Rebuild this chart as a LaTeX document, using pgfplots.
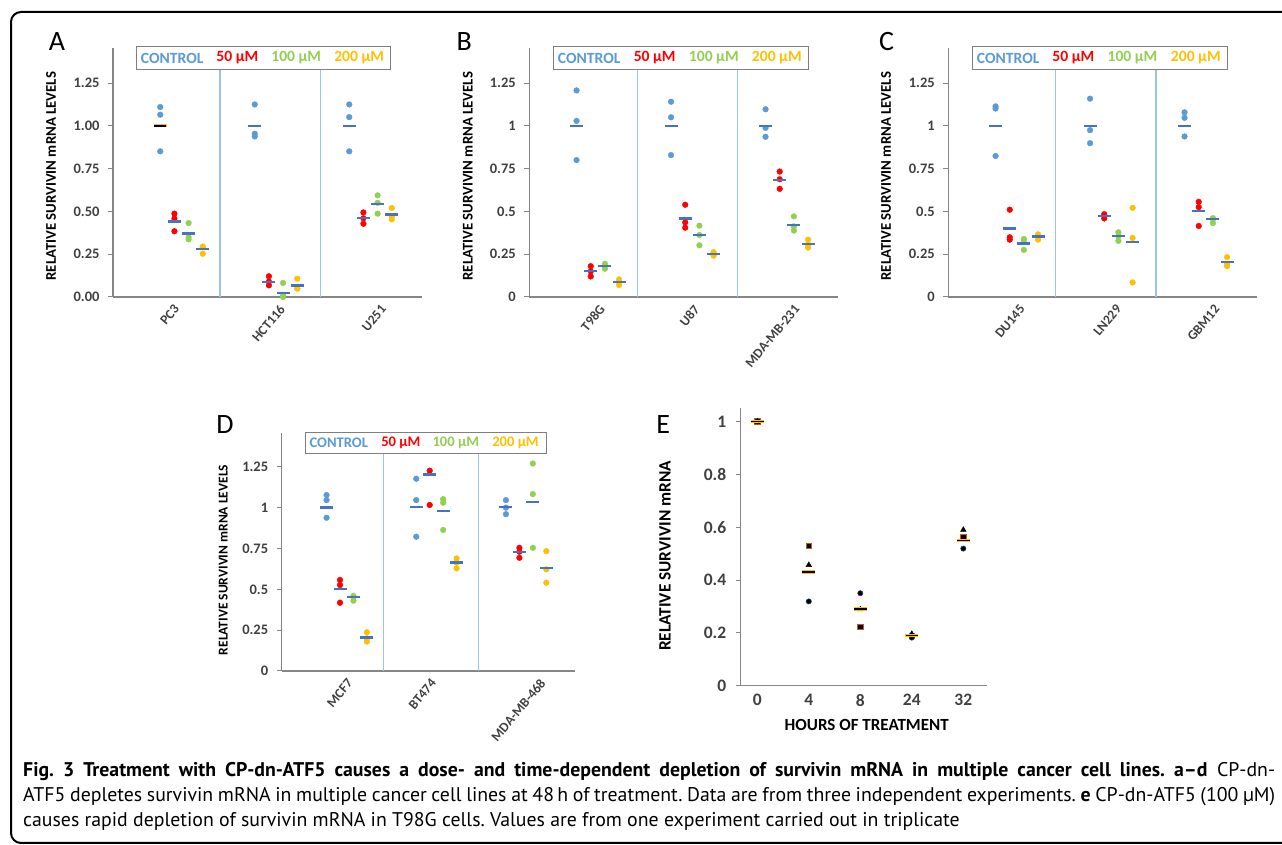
\documentclass[border=0pt]{standalone}
\usepackage{fontspec}
\usepackage{pgfplots}
\pgfplotsset{compat=1.18}
\setmainfont{Carlito}
\newfontfamily\capfont{PT Sans}
\definecolor{ctrl}{HTML}{5B9BD5}
\definecolor{rd}{HTML}{FF0000}
\definecolor{gr}{HTML}{92D050}
\definecolor{yl}{HTML}{FFC000}
\definecolor{mb}{HTML}{4472C4}
\definecolor{sepc}{HTML}{9DC3E6}
\definecolor{axg}{HTML}{868686}
\definecolor{tk}{HTML}{404040}
\definecolor{lg}{HTML}{7F7F7F}
\definecolor{sqor}{HTML}{C55A11}
\definecolor{navy}{HTML}{1F3864}
\newcommand\tickf{\fontsize{14.5}{16}\selectfont\bfseries}
\newcommand\catf{\fontsize{13.5}{15}\selectfont\bfseries}
\newcommand\ylabf{\fontsize{14.8}{17}\selectfont\bfseries}
\newcommand\legf{\fontsize{15.6}{17}\selectfont\bfseries}
\newcommand\legfd{\fontsize{14.6}{16}\selectfont\bfseries}
\newcommand\letf{\fontsize{28}{30}\selectfont}
\pgfplotsset{
  panel/.style={
    scale only axis, clip=false, anchor=south west,
    xmin=0.5, xmax=3.77, ymin=0, ymax=1.455,
    axis x line*=bottom, axis y line*=left,
    axis line style={draw=axg, line width=1.2pt, -},
    ytick={0,0.25,0.5,0.75,1,1.25},
    tick align=outside, major tick length=5pt,
    y tick style={draw=axg, line width=1pt},
    x tick style={draw=none},
    yticklabel style={font=\tickf, text=tk, xshift=-5pt},
    xticklabel style={font=\catf, text=tk, inner sep=1pt, rotate=50, anchor=east},
    xticklabel shift=4pt,
    ylabel style={font=\ylabf, text=black, anchor=center},
    ylabel={RELATIVE SURVIVIN mRNA LEVELS},
  },
  dots/.style={only marks, mark=*, mark size=2.85pt, color=#1},
  means/.style={only marks, mark=-, mark size=6.5pt, color=mb, mark options={line width=2.4pt}},
  sepl/.style={no marks, color=sepc, line width=1.2pt},
}
\newcommand\legendbox[9]{%
  \draw[lg, fill=white, line width=1pt] (#1,#3) rectangle (#2,775.7);
  \node[font=#9, text=ctrl] at (#5,#4) {CONTROL};
  \node[font=#9, text=rd] at (#6,#4) {50 µM};
  \node[font=#9, text=gr] at (#7,#4) {100 µM};
  \node[font=#9, text=yl] at (#8,#4) {200 µM};}
\begin{document}
\begin{tikzpicture}[x=1pt,y=1pt]
\useasboundingbox (0,0) rectangle (1282,845);
\clip (0,0) rectangle (1282,845);
\draw[line width=2pt, rounded corners=10pt] (11,2) rectangle (1300,833);

% ---------------- Panel A ----------------
\begin{axis}[panel, at={(113pt,548pt)}, width=309pt, height=249pt,
  yticklabels={0.00,0.25,0.50,0.75,1.00,1.25},
  xtick={1.18,2.30,3.37}, xticklabels={PC3,HCT116,U251},
  ylabel style={at={(axis description cs:-0.2006,0.485)}}]
\addplot[sepl] coordinates {(1.632,0) (1.632,1.455)};
\addplot[sepl] coordinates {(2.698,0) (2.698,1.455)};
\addplot[dots=ctrl] coordinates {(1,1.11) (1,1.065) (1,0.851) (2,1.125) (2,0.954) (2,0.938) (3,1.125) (3,1.051) (3,0.851)};
\addplot[dots=rd] coordinates {(1.15,0.487) (1.15,0.458) (1.15,0.384) (2.15,0.121) (2.15,0.09) (2.15,0.068) (3.15,0.494) (3.15,0.46) (3.15,0.428)};
\addplot[dots=gr] coordinates {(1.3,0.432) (1.3,0.35) (1.3,0.337) (2.3,0.082) (2.3,0.01) (2.3,0.0) (3.3,0.594) (3.3,0.487) (3.3,0.55)};
\addplot[dots=yl] coordinates {(1.45,0.295) (1.45,0.253) (1.45,0.29) (2.45,0.107) (2.45,0.049) (2.45,0.05) (3.45,0.52) (3.45,0.454) (3.45,0.47)};
\addplot[means] coordinates {(2,1) (3,1) (1.15,0.442) (2.15,0.088) (3.15,0.46) (1.3,0.37) (2.3,0.025) (3.3,0.543) (1.45,0.28) (2.45,0.068) (3.45,0.481)};
\addplot[only marks, mark=-, mark size=6.5pt, color=yl, mark options={line width=3pt}] coordinates {(1,1)};
\addplot[only marks, mark=-, mark size=6.2pt, color=black, mark options={line width=1.5pt}] coordinates {(1,1)};
\end{axis}

% ---------------- Panel B ----------------
\begin{axis}[panel, at={(529.3pt,548pt)}, width=309pt, height=249pt,
  yticklabels={0,0.25,0.5,0.75,1,1.25},
  xtick={1.28,2.28,3.34}, xticklabels={T98G,U87,MDA-MB-231},
  ylabel style={at={(axis description cs:-0.199,0.485)}}]
\addplot[sepl] coordinates {(1.643,0) (1.643,1.455)};
\addplot[sepl] coordinates {(2.705,0) (2.705,1.455)};
\addplot[dots=ctrl] coordinates {(1,1.207) (1,1.029) (1,0.80) (2,1.141) (2,1.05) (2,0.829) (3,1.097) (3,0.988) (3,0.936)};
\addplot[dots=rd] coordinates {(1.15,0.18) (1.15,0.15) (1.15,0.12) (2.15,0.539) (2.15,0.436) (2.15,0.405) (3.15,0.733) (3.15,0.688) (3.15,0.632)};
\addplot[dots=gr] coordinates {(1.3,0.194) (1.3,0.18) (1.3,0.165) (2.3,0.417) (2.3,0.362) (2.3,0.302) (3.3,0.471) (3.3,0.413) (3.3,0.388)};
\addplot[dots=yl] coordinates {(1.45,0.103) (1.45,0.09) (1.45,0.07) (2.45,0.262) (2.45,0.25) (2.45,0.242) (3.45,0.335) (3.45,0.306) (3.45,0.289)};
\addplot[means] coordinates {(1,1) (2,1) (3,1) (1.15,0.151) (2.15,0.459) (3.15,0.682) (1.3,0.18) (2.3,0.362) (3.3,0.42) (1.45,0.089) (2.45,0.252) (3.45,0.308)};
\end{axis}

% ---------------- Panel C ----------------
\begin{axis}[panel, at={(948.3pt,548pt)}, width=309pt, height=249pt,
  yticklabels={0,0.25,0.5,0.75,1,1.25},
  xtick={1.29,2.31,3.35}, xticklabels={DU145,LN229,GBM12},
  ylabel style={at={(axis description cs:-0.2016,0.485)}}]
\addplot[sepl] coordinates {(1.637,0) (1.637,1.455)};
\addplot[sepl] coordinates {(2.698,0) (2.698,1.455)};
\addplot[dots=ctrl] coordinates {(1,1.114) (1,1.101) (1,0.824) (2,1.159) (2,0.975) (2,0.899) (3,1.079) (3,1.047) (3,0.938)};
\addplot[dots=rd] coordinates {(1.15,0.51) (1.15,0.349) (1.15,0.335) (2.15,0.484) (2.15,0.459) (2.15,0.475) (3.15,0.556) (3.15,0.525) (3.15,0.415)};
\addplot[dots=gr] coordinates {(1.3,0.339) (1.3,0.32) (1.3,0.275) (2.3,0.378) (2.3,0.328) (2.3,0.355) (3.3,0.461) (3.3,0.432) (3.3,0.455)};
\addplot[dots=yl] coordinates {(1.45,0.366) (1.45,0.335) (1.45,0.355) (2.45,0.521) (2.45,0.345) (2.45,0.085) (3.45,0.233) (3.45,0.18) (3.45,0.194)};
\addplot[means] coordinates {(1,1) (2,1) (3,1) (1.15,0.401) (2.15,0.473) (3.15,0.504) (1.3,0.312) (2.3,0.355) (3.3,0.455) (1.45,0.353) (2.45,0.322) (3.45,0.203)};
\end{axis}

% ---------------- Panel D ----------------
\begin{axis}[panel, at={(281.7pt,174pt)}, width=293.3pt, height=237.7pt,
  yticklabels={0,0.25,0.5,0.75,1,1.25},
  xtick={1.27,2.20,3.42}, xticklabels={MCF7,BT474,MDA-MB-468},
  ylabel style={font=\fontsize{13.5}{15}\selectfont\bfseries, at={(axis description cs:-0.199,0.467)}}]
\addplot[sepl] coordinates {(1.631,0) (1.631,1.455)};
\addplot[sepl] coordinates {(2.694,0) (2.694,1.455)};
\addplot[dots=ctrl] coordinates {(1,1.077) (1,1.046) (1,0.938) (2,1.177) (2,1.046) (2,0.822) (3,1.046) (3,0.96) (3,1.0)};
\addplot[dots=rd] coordinates {(1.15,0.557) (1.15,0.526) (1.15,0.418) (2.15,1.226) (2.15,1.016) (2.15,1.37) (3.15,0.754) (3.15,0.693) (3.15,0.73)};
\addplot[dots=gr] coordinates {(1.3,0.459) (1.3,0.43) (1.3,0.455) (2.3,1.052) (2.3,1.03) (2.3,0.863) (3.3,1.27) (3.3,1.083) (3.3,0.754)};
\addplot[dots=yl] coordinates {(1.45,0.237) (1.45,0.18) (1.45,0.2) (2.45,0.689) (2.45,0.628) (2.45,0.663) (3.45,0.734) (3.45,0.622) (3.45,0.54)};
\addplot[means] coordinates {(1,1) (2,1.003) (3,1.003) (1.15,0.502) (2.15,1.203) (3.15,0.73) (1.3,0.453) (2.3,0.981) (3.3,1.034) (1.45,0.204) (2.45,0.663) (3.45,0.632)};
\end{axis}

% ---------------- Panel E ----------------
\begin{axis}[scale only axis, clip=false, anchor=south west,
  at={(740.7pt,159.3pt)}, width=246.6pt, height=277.4pt,
  xmin=0.678, xmax=5.466, ymin=0, ymax=1.05,
  axis x line*=bottom, axis y line*=left,
  axis line style={draw=axg, line width=1.2pt, -},
  ytick={0,0.2,0.4,0.6,0.8,1}, yticklabels={0,0.2,0.4,0.6,0.8,1},
  xtick={1,2,3,4,5}, xticklabels={0,4,8,24,32},
  tick align=outside, major tick length=5pt,
  y tick style={draw=axg, line width=1pt},
  x tick style={draw=none},
  yticklabel style={font=\fontsize{17.5}{19}\selectfont\bfseries, text=tk, xshift=-6pt},
  xticklabel style={font=\fontsize{17.5}{19}\selectfont\bfseries, text=tk},
  ylabel={RELATIVE SURVIVIN mRNA},
  ylabel style={font=\fontsize{17.3}{19}\selectfont\bfseries, text=black, anchor=center, at={(axis description cs:-0.307,0.468)}},
  xlabel={HOURS OF TREATMENT},
  xlabel style={font=\fontsize{17}{19}\selectfont\bfseries, text=black, anchor=center, at={(axis description cs:0.511,-0.1417)}}]
\addplot[only marks, mark=square*, mark size=2.7pt, mark options={fill=black, draw=sqor, line width=0.8pt}] coordinates {(1,1.0) (2,0.53) (3,0.222) (4,0.188) (5,0.564)};
\addplot[only marks, mark=*, mark size=2.6pt, mark options={fill=black, draw=navy, line width=0.6pt}] coordinates {(1,1.0) (2,0.319) (3,0.35) (4,0.182) (5,0.519)};
\addplot[only marks, mark=triangle*, mark size=3.2pt, mark options={fill=black, draw=black}] coordinates {(1,1.0) (2,0.457) (3,0.289) (4,0.196) (5,0.59)};
\addplot[only marks, mark=-, mark size=6.5pt, color=yl, mark options={line width=3.2pt}] coordinates {(1,1.0) (2,0.43) (3,0.29) (4,0.191) (5,0.549)};
\addplot[only marks, mark=-, mark size=6.3pt, color=black, mark options={line width=1.4pt}] coordinates {(1,1.0) (2,0.43) (3,0.29) (4,0.191) (5,0.549)};
\end{axis}

% legends (drawn over the plots, as in the reference)
\legendbox{136.7}{390.7}{798.3}{787}{172.2}{237.3}{296.2}{359.1}{\legf}
\legendbox{553.3}{808.7}{798.3}{787}{589.2}{654.7}{713.8}{776.8}{\legf}
\legendbox{972}{1227.7}{798.3}{787}{1008.2}{1073.3}{1132.5}{1195.8}{\legf}
\draw[lg, fill=white, line width=1pt] (305,412.7) rectangle (546.7,391);
\node[font=\legfd, text=ctrl] at (338.8,402.3) {CONTROL};
\node[font=\legfd, text=rd] at (400.8,402.3) {50 µM};
\node[font=\legfd, text=gr] at (455.8,402.3) {100 µM};
\node[font=\legfd, text=yl] at (515.5,402.3) {200 µM};

% panel letters
\node[font=\letf] at (57,803) {A};
\node[font=\letf] at (464.3,803) {B};
\node[font=\letf] at (886.7,803) {C};
\node[font=\letf] at (225,420) {D};
\node[font=\letf] at (663.3,420.7) {E};

% caption
\node[anchor=base west, inner sep=0pt] at (23,68) {\frenchspacing\capfont\fontsize{19.8}{25}\selectfont\makebox[1252pt][s]{\bfseries Fig. 3 Treatment with CP-dn-ATF5 causes a dose- and time-dependent depletion of survivin mRNA in multiple cancer cell lines. a–d\mdseries{} CP-dn-}};
\node[anchor=base west, inner sep=0pt] at (23,43) {\frenchspacing\capfont\fontsize{19.8}{25}\selectfont\makebox[1252pt][s]{ATF5 depletes survivin mRNA in multiple cancer cell lines at 48\,h of treatment. Data are from three independent experiments. {\bfseries e} CP-dn-ATF5 (100 µM)}};
\node[anchor=base west, inner sep=0pt] at (23,18) {\frenchspacing\capfont\fontsize{19.8}{25}\selectfont causes rapid depletion of survivin mRNA in T98G cells. Values are from one experiment carried out in triplicate};
\end{tikzpicture}
\end{document}
